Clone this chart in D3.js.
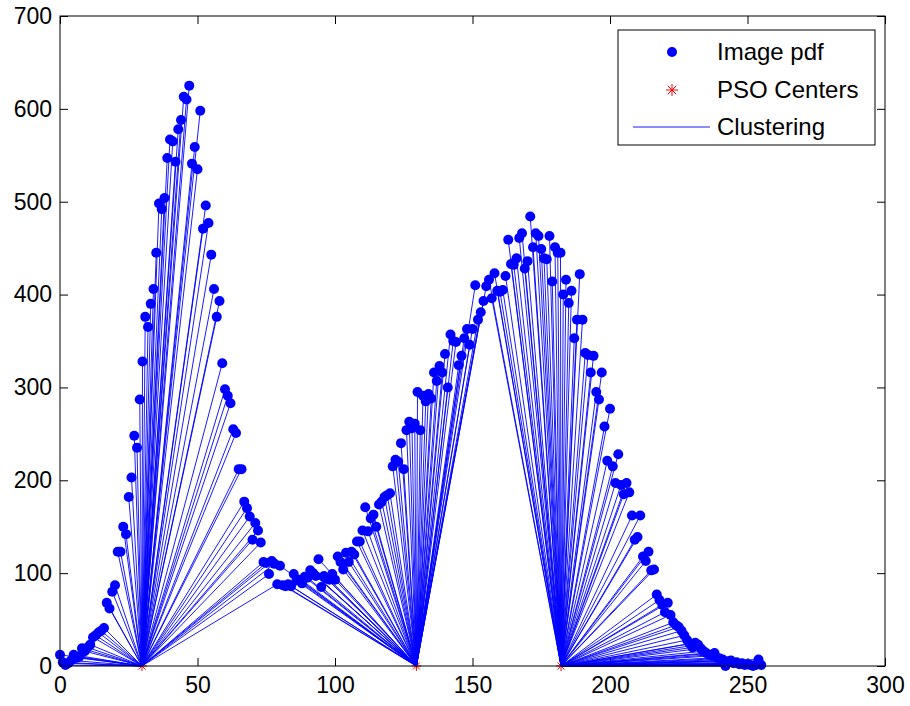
<!DOCTYPE html>
<html lang="en">
<head>
    <meta charset="UTF-8">
    <title>PSO clustering of image pdf</title>
    <script src="https://d3js.org/d3.v7.min.js"></script>
<style>
    body { margin: 0; background: #fff; }
    text { font-family: "Liberation Sans", Arial, sans-serif; }
</style>
</head>
<body>
</body>
<script>

// histogram (image pdf), one value per grey level 0..255
const pdfValues = [
    12, 4, 1, 3, 6, 12, 9, 10, 19, 16,
    20, 23, 31, 33, 36, 38, 41, 68, 62, 80,
    87, 123, 123, 150, 142, 182, 203, 248, 235, 287,
    328, 376, 365, 390, 406, 445, 498, 492, 504, 547,
    567, 565, 543, 578, 588, 613, 610, 625, 541, 559,
    535, 598, 471, 496, 477, 443, 406, 376, 393, 326,
    298, 291, 283, 255, 251, 212, 212, 177, 170, 161,
    136, 154, 146, 133, 112, 111, 99, 113, 110, 88,
    108, 87, 86, 88, 86, 99, 92, 93, 89, 96,
    95, 103, 100, 97, 115, 85, 97, 94, 93, 99,
    93, 118, 112, 104, 122, 112, 123, 120, 134, 134,
    146, 171, 145, 159, 163, 150, 174, 177, 182, 184,
    186, 215, 222, 220, 240, 212, 254, 263, 256, 261,
    295, 254, 291, 285, 293, 288, 316, 307, 323, 316,
    336, 300, 357, 350, 349, 324, 334, 353, 363, 346,
    363, 410, 373, 381, 393, 409, 416, 396, 423, 404,
    403, 405, 420, 459, 433, 432, 439, 461, 466, 428,
    436, 484, 451, 466, 463, 449, 439, 438, 463, 414,
    451, 445, 445, 400, 416, 391, 404, 353, 373, 422,
    373, 337, 335, 316, 334, 295, 287, 316, 258, 221,
    277, 215, 197, 228, 195, 185, 197, 187, 162, 136,
    139, 162, 118, 113, 123, 103, 104, 77, 71, 66,
    58, 68, 55, 47, 44, 42, 38, 33, 28, 24,
    20, 25, 23, 19, 16, 14, 12, 11, 14, 9,
    8, 7, 0, 5, 6, 3, 4, 2, 3, 1,
    2, 1, 0, 1, 7, 1
];
const psoCenters = [29.8, 129.6, 182.2];
const xTicks = [0, 50, 100, 150, 200, 250, 300];
const yTicks = [0, 100, 200, 300, 400, 500, 600, 700];
const legendLabels = ['Image pdf', 'PSO Centers', 'Clustering'];

const width = 910, height = 706;
const margin = { left: 60, top: 16, right: 25, bottom: 40 };
const blue = '#0000ff', red = '#ff0000';

const points = pdfValues.map((v, i) => {
    // nearest center
    let c = psoCenters[0];
    psoCenters.forEach(p => { if (Math.abs(i - p) < Math.abs(i - c)) c = p; });
    return { level: i, value: v, center: c };
});

const x = d3.scaleLinear().domain([0, 300]).range([margin.left, width - margin.right]);
const y = d3.scaleLinear().domain([0, 700]).range([height - margin.bottom, margin.top]);

const svg = d3.select('body')
    .append('svg')
    .attr('width', width)
    .attr('height', height);

svg.append('rect')
    .attr('x', margin.left).attr('y', margin.top)
    .attr('width', x(300) - x(0)).attr('height', y(0) - y(700))
    .attr('fill', '#fff');

// axes, MATLAB style ticks pointing inward
const tick = 8;
const styleAxis = g => {
    g.select('.domain').remove();
    g.selectAll('line').attr('stroke', '#000');
    g.selectAll('text').attr('font-size', 23).attr('fill', '#000')
        .style('font-family', '"Liberation Sans", Arial, sans-serif');
};
svg.append('g').attr('transform', `translate(0,${y(0)})`)
    .call(d3.axisBottom(x).tickValues(xTicks).tickSizeInner(-tick).tickSizeOuter(0).tickPadding(11))
    .call(styleAxis);
svg.append('g').attr('transform', `translate(0,${y(700)})`)
    .call(d3.axisTop(x).tickValues(xTicks).tickSizeInner(-tick).tickSizeOuter(0).tickFormat(''))
    .call(styleAxis);
svg.append('g').attr('transform', `translate(${x(0)},0)`)
    .call(d3.axisLeft(y).tickValues(yTicks).tickSizeInner(-tick).tickSizeOuter(0).tickPadding(8))
    .call(styleAxis);
svg.append('g').attr('transform', `translate(${x(300)},0)`)
    .call(d3.axisRight(y).tickValues(yTicks).tickSizeInner(-tick).tickSizeOuter(0).tickFormat(''))
    .call(styleAxis);

// pdf points
svg.append('g')
    .selectAll('circle')
    .data(points)
    .enter()
    .append('circle')
    .attr('cx', d => x(d.level))
    .attr('cy', d => y(d.value))
    .attr('r', 5)
    .style('fill', blue);

// asterisk marker
const star = s => `M${-s},0L${s},0M0,${-s}L0,${s}M${-s * 0.7},${-s * 0.7}L${s * 0.7},${s * 0.7}M${-s * 0.7},${s * 0.7}L${s * 0.7},${-s * 0.7}`;

svg.append('g')
    .selectAll('path')
    .data(psoCenters)
    .enter()
    .append('path')
    .attr('transform', d => `translate(${x(d)},${y(0)})`)
    .attr('d', star(5))
    .style('fill', 'none')
    .style('stroke', red)
    .style('stroke-width', '1px');

// clustering lines
svg.append('g')
    .selectAll('line')
    .data(points)
    .enter()
    .append('line')
    .attr('x1', d => x(d.level))
    .attr('y1', d => y(d.value))
    .attr('x2', d => x(d.center))
    .attr('y2', y(0))
    .style('stroke', blue)
    .style('stroke-width', '0.9px');

// box
svg.append('rect')
    .attr('x', margin.left).attr('y', margin.top)
    .attr('width', x(300) - x(0)).attr('height', y(0) - y(700))
    .attr('fill', 'none').attr('stroke', '#000').attr('stroke-width', 1);

// legend
const lg = svg.append('g').attr('transform', 'translate(618,30)');
lg.append('rect').attr('width', 257).attr('height', 115)
    .attr('fill', '#fff').attr('stroke', '#000').attr('stroke-width', 1);
const rowY = [22, 60, 97];
lg.append('circle').attr('cx', 54).attr('cy', rowY[0]).attr('r', 5).style('fill', blue);
lg.append('path').attr('transform', `translate(54,${rowY[1]})`).attr('d', star(6))
    .style('fill', 'none').style('stroke', red);
lg.append('line').attr('x1', 15).attr('x2', 92).attr('y1', rowY[2]).attr('y2', rowY[2])
    .style('stroke', blue).style('stroke-width', '0.9px');
lg.selectAll('text.lab')
    .data(legendLabels)
    .enter()
    .append('text')
    .attr('class', 'lab')
    .attr('x', 99)
    .attr('y', (d, i) => rowY[i])
    .attr('dy', '0.35em')
    .attr('font-size', 24)
    .text(d => d);

</script>
</html>
